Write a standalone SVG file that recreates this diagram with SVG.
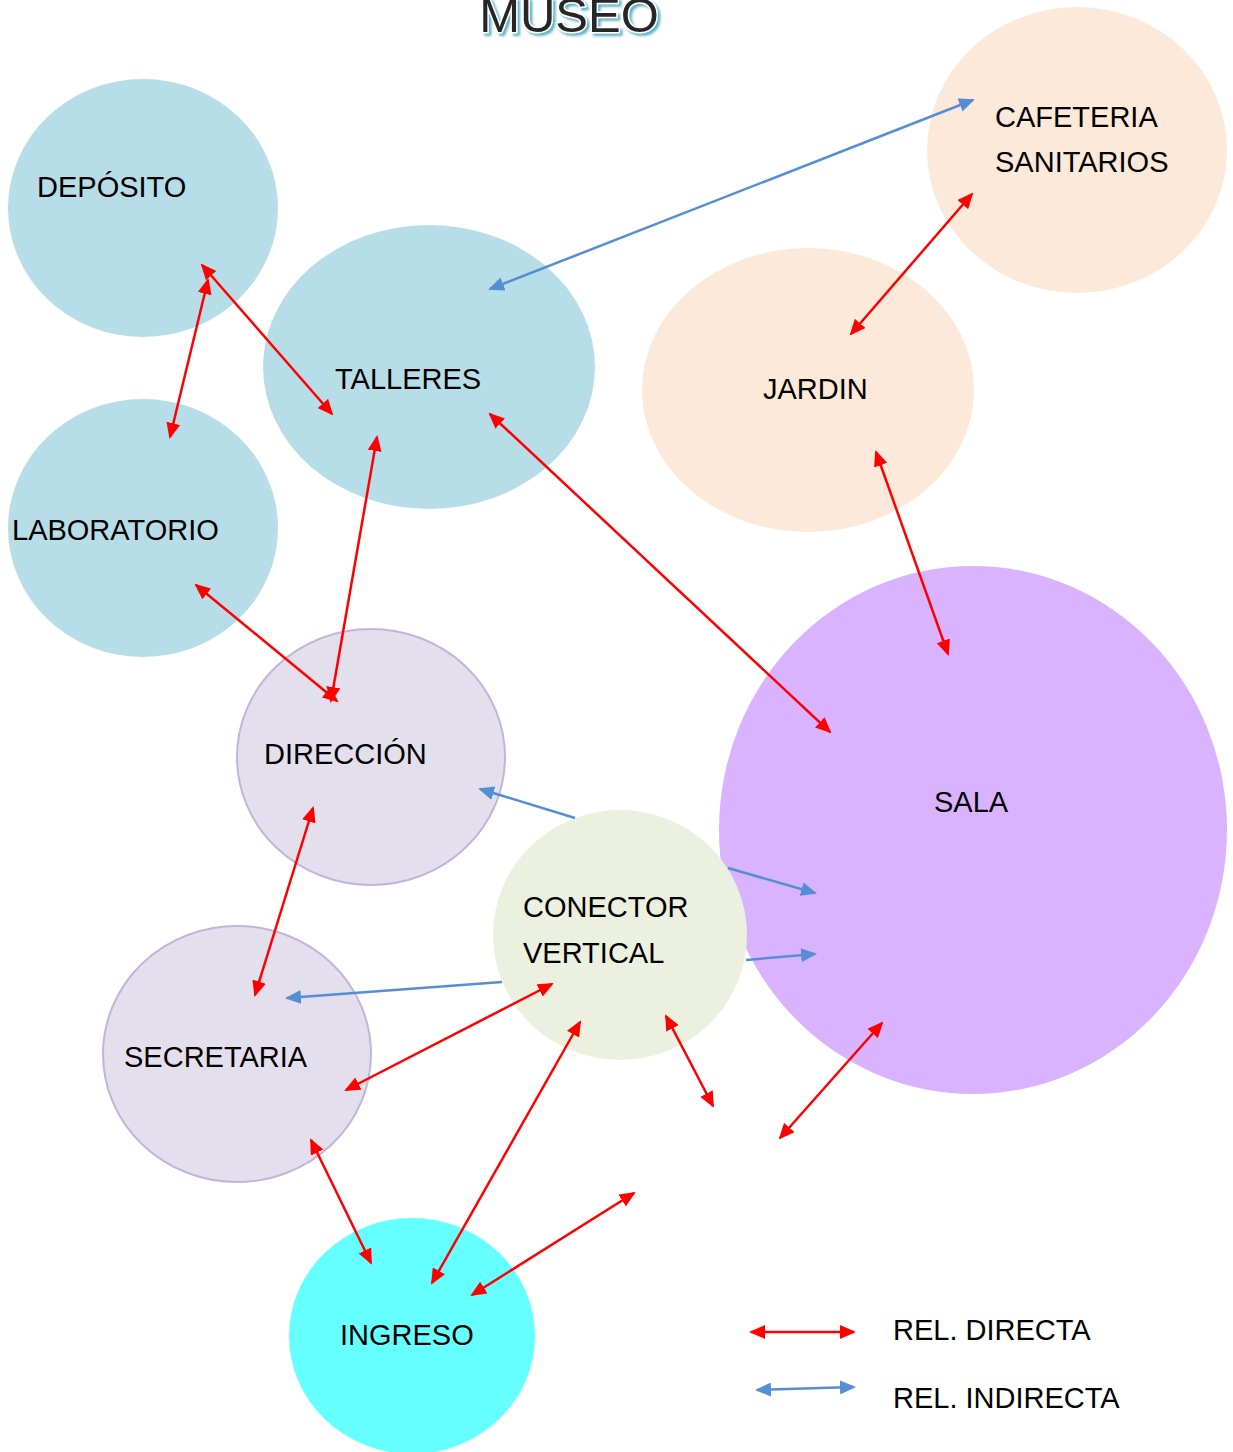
<svg xmlns="http://www.w3.org/2000/svg" width="1233" height="1452" viewBox="0 0 1233 1452">
<style>
text{font-family:"Liberation Sans",Arial,sans-serif;font-size:29px;fill:#000}
.r{stroke:#ff0000;stroke-width:2.5;fill:none;marker-start:url(#ar);marker-end:url(#ar)}
.b{stroke:#558ed5;stroke-width:2.5;fill:none;marker-end:url(#ab)}
.bb{stroke:#558ed5;stroke-width:2.5;fill:none;marker-start:url(#ab);marker-end:url(#ab)}
.blue{fill:#b7dde8}
.peach{fill:#fde9d9}
.lav{fill:#e4dfec;stroke:#c3b5d9;stroke-width:2}
</style>
<defs>
<marker id="ar" markerUnits="userSpaceOnUse" markerWidth="16" markerHeight="14" refX="14" refY="7" orient="auto-start-reverse"><path d="M0,0 L16,7 L0,14 z" fill="#ff0000"/></marker>
<marker id="ab" markerUnits="userSpaceOnUse" markerWidth="16" markerHeight="14" refX="14" refY="7" orient="auto-start-reverse"><path d="M0,0 L16,7 L0,14 z" fill="#558ed5"/></marker>
<filter id="glow" x="-10%" y="-30%" width="120%" height="160%">
<feDropShadow dx="2.5" dy="2.5" stdDeviation="0.8" flood-color="#4bacc6" flood-opacity="0.9"/>
</filter>
</defs>
<rect width="1233" height="1452" fill="#fff"/>
<g id="title">
<text x="569" y="32" text-anchor="middle" filter="url(#glow)" style="font-size:49px;fill:#262626;stroke:#fff;stroke-width:3;paint-order:stroke">MUSEO</text>
</g>
<g id="nodes">
<g id="deposito"><ellipse class="blue" cx="143" cy="208" rx="135" ry="129"/><text x="37" y="197">DEPÓSITO</text></g>
<g id="talleres"><ellipse class="blue" cx="429" cy="367" rx="166" ry="142"/><text x="335" y="389">TALLERES</text></g>
<g id="laboratorio"><ellipse class="blue" cx="143" cy="528" rx="135" ry="129"/><text x="12" y="540">LABORATORIO</text></g>
<g id="cafeteria"><ellipse class="peach" cx="1077" cy="150" rx="150" ry="143"/><text x="995" y="127">CAFETERIA</text><text x="995" y="172">SANITARIOS</text></g>
<g id="jardin"><ellipse class="peach" cx="808" cy="390" rx="166" ry="142"/><text x="763" y="399">JARDIN</text></g>
<g id="sala"><ellipse fill="#d9b3ff" cx="973" cy="830" rx="254" ry="264"/><text x="934" y="812">SALA</text></g>
<g id="direccion"><ellipse class="lav" cx="371" cy="757" rx="134" ry="128"/><text x="264" y="764">DIRECCIÓN</text></g>
<g id="conector"><ellipse fill="#ebf1de" cx="620" cy="935" rx="127" ry="125"/><text x="523" y="917">CONECTOR</text><text x="523" y="963">VERTICAL</text></g>
<g id="secretaria"><ellipse class="lav" cx="237" cy="1054" rx="134" ry="128"/><text x="124" y="1067">SECRETARIA</text></g>
<g id="ingreso"><ellipse fill="#66ffff" cx="412" cy="1336" rx="123" ry="118"/><text x="340" y="1345">INGRESO</text></g>
</g>
<g id="connectors">
<line class="bb" x1="973" y1="100" x2="490" y2="289"/>
<line class="b" x1="575" y1="818" x2="480" y2="789"/>
<line class="b" x1="728" y1="868" x2="815" y2="893"/>
<line class="b" x1="746" y1="960" x2="815" y2="954"/>
<line class="b" x1="502" y1="982" x2="287" y2="998"/>
<line class="r" x1="202" y1="265" x2="332" y2="414"/>
<line class="r" x1="208" y1="280" x2="170" y2="437"/>
<line class="r" x1="377" y1="437" x2="331" y2="701"/>
<line class="r" x1="196" y1="585" x2="337" y2="701"/>
<line class="r" x1="490" y1="414" x2="830" y2="732"/>
<line class="r" x1="972" y1="194" x2="851" y2="334"/>
<line class="r" x1="876" y1="452" x2="948" y2="654"/>
<line class="r" x1="313" y1="808" x2="255" y2="995"/>
<line class="r" x1="552" y1="984" x2="346" y2="1090"/>
<line class="r" x1="580" y1="1022" x2="432" y2="1283"/>
<line class="r" x1="311" y1="1140" x2="371" y2="1263"/>
<line class="r" x1="666" y1="1016" x2="713" y2="1106"/>
<line class="r" x1="882" y1="1023" x2="780" y2="1138"/>
<line class="r" x1="634" y1="1193" x2="472" y2="1295"/>
</g>
<g id="legend">
<line class="r" x1="751" y1="1332" x2="854" y2="1332"/>
<line class="bb" x1="757" y1="1390" x2="854" y2="1387"/>
<text x="893" y="1340">REL. DIRECTA</text>
<text x="893" y="1408">REL. INDIRECTA</text>
</g>
</svg>
